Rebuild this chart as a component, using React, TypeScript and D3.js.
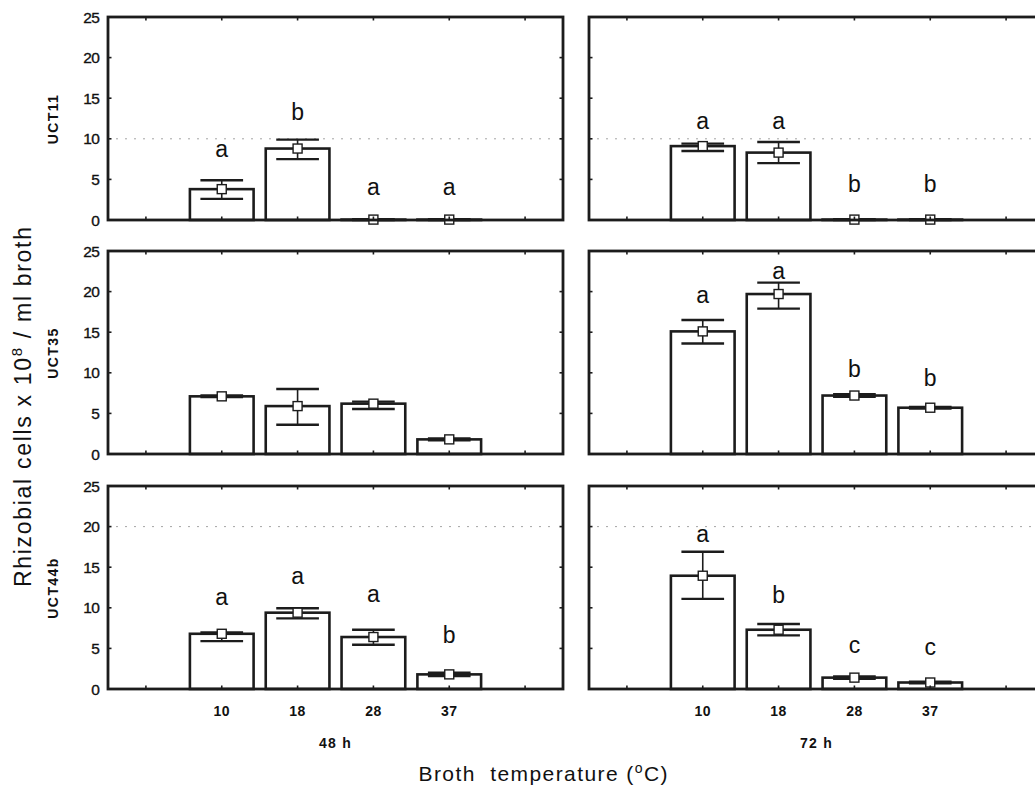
import React from "react";
import * as d3 from "d3";

// ---- data ----
const temps = ["10", "18", "28", "37"];
const strains = ["UCT11", "UCT35", "UCT44b"];
const times = ["48 h", "72 h"];
const yTicks = [0, 5, 10, 15, 20, 25];
const gridByStrain = [10, null, 20];

const uct11_48_mean = [3.8, 8.8, 0.05, 0.05];
const uct11_48_low = [2.6, 7.5, 0.0, 0.0];
const uct11_48_high = [4.9, 9.9, 0.1, 0.1];
const uct11_48_letters = ["a", "b", "a", "a"];
const uct11_48_letterY = [7.75, 12.35, 3.05, 3.05];

const uct11_72_mean = [9.1, 8.3, 0.05, 0.05];
const uct11_72_low = [8.5, 7.0, 0.0, 0.0];
const uct11_72_high = [9.4, 9.6, 0.1, 0.1];
const uct11_72_letters = ["a", "a", "b", "b"];
const uct11_72_letterY = [11.25, 11.25, 3.45, 3.45];

const uct35_48_mean = [7.1, 5.9, 6.2, 1.8];
const uct35_48_low = [7.0, 3.6, 5.55, 1.7];
const uct35_48_high = [7.2, 8.0, 6.45, 1.9];
const uct35_48_letters: string[] = ["", "", "", ""];
const uct35_48_letterY = [0, 0, 0, 0];

const uct35_72_mean = [15.1, 19.7, 7.2, 5.7];
const uct35_72_low = [13.6, 17.9, 7.05, 5.6];
const uct35_72_high = [16.5, 21.1, 7.35, 5.8];
const uct35_72_letters = ["a", "a", "b", "b"];
const uct35_72_letterY = [18.55, 21.6, 9.45, 8.35];

const uct44_48_mean = [6.8, 9.4, 6.4, 1.8];
const uct44_48_low = [5.9, 8.7, 5.45, 1.6];
const uct44_48_high = [6.95, 9.95, 7.3, 2.0];
const uct44_48_letters = ["a", "a", "a", "b"];
const uct44_48_letterY = [10.3, 12.95, 10.75, 5.7];

const uct44_72_mean = [13.95, 7.3, 1.4, 0.8];
const uct44_72_low = [11.1, 6.6, 1.25, 0.7];
const uct44_72_high = [16.9, 8.0, 1.55, 0.9];
const uct44_72_letters = ["a", "b", "c", "c"];
const uct44_72_letterY = [18.05, 10.55, 4.4, 4.2];

const panelData = [
  [
    [uct11_48_mean, uct11_48_low, uct11_48_high, uct11_48_letters, uct11_48_letterY],
    [uct11_72_mean, uct11_72_low, uct11_72_high, uct11_72_letters, uct11_72_letterY],
  ],
  [
    [uct35_48_mean, uct35_48_low, uct35_48_high, uct35_48_letters, uct35_48_letterY],
    [uct35_72_mean, uct35_72_low, uct35_72_high, uct35_72_letters, uct35_72_letterY],
  ],
  [
    [uct44_48_mean, uct44_48_low, uct44_48_high, uct44_48_letters, uct44_48_letterY],
    [uct44_72_mean, uct44_72_low, uct44_72_high, uct44_72_letters, uct44_72_letterY],
  ],
];

// ---- layout ----
const W = 1035;
const H = 788;
const colX = [
  [108, 563],
  [589, 1044],
];
const rowTop = [17, 251, 486];
const rowH = 203;
const slots = ["pre", ...temps, "post"];
const INK = "#1c1c1c";
const FONT = "Arial, 'Liberation Sans', Helvetica, sans-serif";

export default function App() {
  const panels: React.ReactNode[] = [];

  strains.forEach((strain, r) => {
    const y = d3.scaleLinear().domain([0, 25]).range([rowTop[r] + rowH, rowTop[r]]);
    times.forEach((time, c) => {
      const [x0, x1] = colX[c];
      const x = d3.scaleBand<string>().domain(slots).range([x0, x1]).paddingInner(0.16).paddingOuter(0.08);
      const step = (x1 - x0) / slots.length;
      const slotCenter = (k: string) => x0 + step * (slots.indexOf(k) + 0.5);
      const [mean, low, high, letters, letterY] = panelData[r][c] as [number[], number[], number[], string[], number[]];
      const bw = x.bandwidth();
      const capW = bw * 0.67;
      const grid = gridByStrain[r];
      panels.push(
        <g key={`${r}-${c}`}>
          {grid !== null && (
            <line x1={x0 + 8} x2={x1 - 8} y1={y(grid)} y2={y(grid)} stroke="#9a9a9a" strokeWidth={0.9} strokeDasharray="2 7" />
          )}
          {temps.map((t, i) => {
            const cx = slotCenter(t);
            return (
              <rect
                key={`b${t}`}
                x={cx - bw / 2}
                y={y(mean[i])}
                width={bw}
                height={y(0) - y(mean[i])}
                fill="white"
                stroke={INK}
                strokeWidth={2.6}
              />
            );
          })}
          {temps.map((t, i) => {
            const cx = slotCenter(t);
            return (
              <g key={`e${t}`} stroke={INK}>
                <line x1={cx} x2={cx} y1={y(low[i])} y2={y(high[i])} strokeWidth={1.6} />
                <line x1={cx - capW / 2} x2={cx + capW / 2} y1={y(high[i])} y2={y(high[i])} strokeWidth={2.4} />
                <line x1={cx - capW / 2} x2={cx + capW / 2} y1={y(low[i])} y2={y(low[i])} strokeWidth={2.4} />
                <rect x={cx - 4.5} y={y(mean[i]) - 4.5} width={9} height={9} fill="white" strokeWidth={1.4} />
              </g>
            );
          })}
          {temps.map((t, i) =>
            letters[i] ? (
              <text key={`l${t}`} x={slotCenter(t)} y={y(letterY[i])} textAnchor="middle" fontSize={23} fontFamily={FONT} fill="#111">
                {letters[i]}
              </text>
            ) : null
          )}
          <rect x={x0} y={rowTop[r]} width={x1 - x0} height={rowH} fill="none" stroke={INK} strokeWidth={2.8} />
          {yTicks.map((v) => (
            <g key={`yt${v}`} stroke={INK} strokeWidth={1.6}>
              <line x1={x0} x2={x0 + 3.5} y1={y(v)} y2={y(v)} />
              <line x1={x1} x2={x1 - 3.5} y1={y(v)} y2={y(v)} />
            </g>
          ))}
          {slots.map((s) => (
            <g key={`xt${s}`} stroke={INK} strokeWidth={1.6}>
              <line x1={slotCenter(s)} x2={slotCenter(s)} y1={rowTop[r]} y2={rowTop[r] + 3.5} />
              <line x1={slotCenter(s)} x2={slotCenter(s)} y1={rowTop[r] + rowH} y2={rowTop[r] + rowH - 3.5} />
            </g>
          ))}
          {c === 0 &&
            yTicks.map((v) => (
              <text
                key={`yl${v}`}
                x={99}
                y={y(v) + 5.5}
                textAnchor="end"
                fontSize={15.5}
                fontFamily={FONT}
                fill="#111"
                stroke="#111"
                strokeWidth={0.35}
                letterSpacing={-0.8}
              >
                {v}
              </text>
            ))}
          {r === strains.length - 1 &&
            temps.map((t) => (
              <text key={`xl${t}`} x={slotCenter(t)} y={716} textAnchor="middle" fontSize={14} fontWeight="bold" fontFamily={FONT} fill="#111" letterSpacing={0.5}>
                {t}
              </text>
            ))}
          {r === strains.length - 1 && (
            <text x={(x0 + x1) / 2} y={748} textAnchor="middle" fontSize={14} fontWeight="bold" fontFamily={FONT} fill="#111" letterSpacing={1.2}>
              {time}
            </text>
          )}
        </g>
      );
    });
    panels.push(
      <text
        key={`s${r}`}
        transform={`translate(58, ${rowTop[r] + 102}) rotate(-90)`}
        textAnchor="middle"
        fontSize={14}
        fontWeight="bold"
        fontFamily={FONT}
        fill="#111"
        letterSpacing={1.4}
      >
        {strain}
      </text>
    );
  });

  return (
    <svg width={W} height={H} viewBox={`0 0 ${W} ${H}`} style={{ position: "absolute", left: 0, top: 0, background: "white" }}>
      <rect x={0} y={0} width={W} height={H} fill="white" />
      {panels}
      <text
        transform={`translate(31, 407) rotate(-90)`}
        textAnchor="middle"
        fontSize={23}
        fontFamily={FONT}
        fill="#111"
        textLength={360}
        lengthAdjust="spacing"
      >
        Rhizobial cells x 10<tspan dy={-9} fontSize={15}>8</tspan>
        <tspan dy={9}> / ml broth</tspan>
      </text>
      <text x={543} y={781} textAnchor="middle" fontSize={21} fontFamily={FONT} fill="#111" textLength={249} lengthAdjust="spacing">
        Broth{"\u00a0\u00a0"}temperature (<tspan dy={-8} fontSize={14}>o</tspan>
        <tspan dy={8}>C)</tspan>
      </text>
    </svg>
  );
}
